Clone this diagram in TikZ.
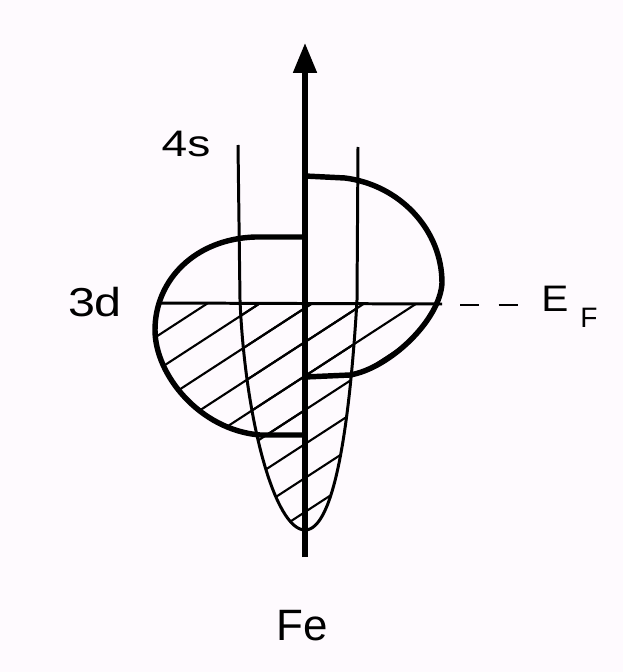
\documentclass[tikz,border=0pt]{standalone}
\usepackage{fontspec}
\setmainfont{Liberation Sans}
\usepackage{graphicx}
\usetikzlibrary{arrows.meta}
\definecolor{bgc}{RGB}{254,250,254}
\begin{document}
\begin{tikzpicture}[x=0.02cm,y=-0.02cm,
  thickc/.style={line width=3.1pt, line join=round, line cap=round},
  thinc/.style={line width=1.7pt},
  hatchl/.style={line width=1.2pt},
  lbl/.style={inner sep=0pt, font=\fontsize{21}{21}\selectfont}]
\fill[bgc] (0,0) rectangle (623,672);
\useasboundingbox (0,0) rectangle (623,672);
\newcommand{\hatchset}{\foreach \k in {-10,...,12} {\draw[hatchl] (140,{308+\k*34+107.25}) -- (470,{308+\k*34-107.25});}}
% hatching below E_F
\begin{scope}
  \clip (0,303) rectangle (623,672);
  \begin{scope}
    \clip (305,237) -- (255,237) .. controls (195,239) and (155,280) .. (155,330)
      .. controls (155,375) and (200,430) .. (260,435) -- (305,435) -- cycle;
    \hatchset
  \end{scope}
  \begin{scope}
    \clip (305,176) -- (345,178) .. controls (400,185) and (442,230) .. (442,283)
      .. controls (440,320) and (390,368) .. (350,375) -- (305,377) -- cycle;
    \hatchset
  \end{scope}
  \begin{scope}
    \clip (238,145) -- (240,300) .. controls (245,420) and (275,530) .. (305,530)
      .. controls (335,530) and (350,420) .. (357,300) -- (358,147) -- cycle;
    \hatchset
  \end{scope}
\end{scope}
% 4s band
\draw[thinc] (238,145) -- (240,300) .. controls (245,420) and (275,530) .. (305,530)
      .. controls (335,530) and (350,420) .. (357,300) -- (358,147);
% 3d bands
\draw[thickc] (305,237) -- (255,237) .. controls (195,239) and (155,280) .. (155,330)
      .. controls (155,375) and (200,430) .. (260,435) -- (305,435);
\draw[thickc] (305,176) -- (345,178) .. controls (400,185) and (442,230) .. (442,283)
      .. controls (440,320) and (390,368) .. (350,375) -- (305,377);
% Fermi level
\draw[thinc] (157,303) -- (442,304);
\draw[thinc, dash pattern=on 11pt off 11pt] (460,305) -- (523,305);
% axis
\coordinate (axb) at (305,557);
\coordinate (axt) at (305,43);
\draw[line width=3pt, -{Triangle[length=17pt,width=13pt]}] (axb) -- (axt);
% labels
\node[lbl] (n4s) at (186,144) {\scalebox{1.25}[1]{4s}};
\node[lbl, font=\fontsize{23}{23}\selectfont] (n3d) at (95,302) {\scalebox{1.2}[1]{3d}};
\node[lbl] (nE) at (555,299) {\scalebox{1.1}[1]{E}};
\node[lbl, font=\fontsize{16}{16}\selectfont] (nF) at (589,318) {F};
\node[lbl, font=\fontsize{25}{25}\selectfont] (nFe) at (302,626) {Fe};
\end{tikzpicture}
\end{document}
